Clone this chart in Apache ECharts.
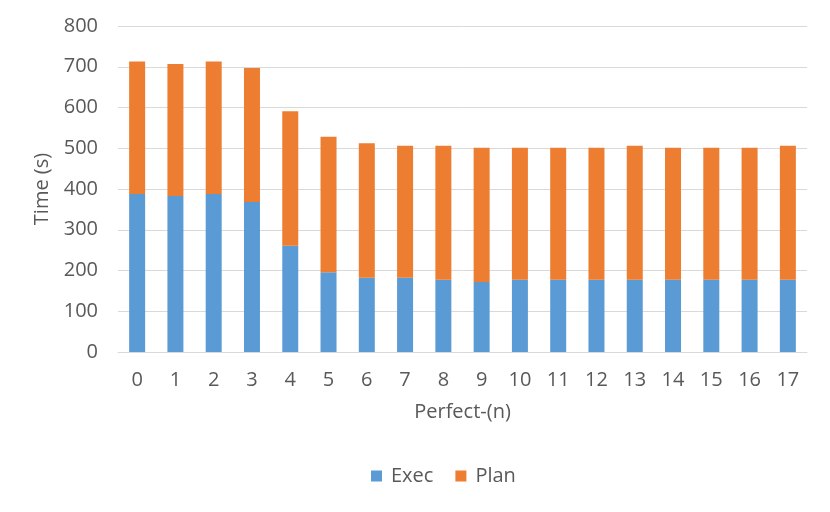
<!DOCTYPE html>
<html><head><meta charset="utf-8">
<script src="https://cdn.jsdelivr.net/npm/echarts@6/dist/echarts.min.js"></script>
<style>html,body{margin:0;padding:0;background:#fff}#c{width:830px;height:512px}</style>
</head><body><div id="c"></div>
<script>
const categories = ['0','1','2','3','4','5','6','7','8','9','10','11','12','13','14','15','16','17'];
const execValues = [388,383,388,368,261,196,182,182,177,172,177,177,177,177,177,177,177,177];
const planValues = [325,324,325,329,330,332,330,324,329,329,324,324,324,329,324,324,324,329];
const yTicks = [0,100,200,300,400,500,600,700,800];

const font = 'Open Sans, Liberation Sans, sans-serif';
const chart = echarts.init(document.getElementById('c'));
chart.setOption({
  animation: false,
  textStyle: {fontFamily: font},
  grid: {left: 118, right: 23, top: 26, bottom: 160, containLabel: false},
  legend: {
    data: ['Exec','Plan'], bottom: 21, left: 366,
    icon: 'rect', itemWidth: 11, itemHeight: 11, itemGap: 22,
    textStyle: {color: '#595959', fontSize: 20, fontFamily: font, padding: [0,0,0,4]}
  },
  xAxis: {
    type: 'category', data: categories,
    name: 'Perfect-(n)', nameLocation: 'middle', nameGap: 50,
    nameTextStyle: {color: '#595959', fontSize: 20, fontFamily: font},
    axisLine: {lineStyle: {color: '#D9D9D9', width: 1}},
    axisTick: {show: false},
    axisLabel: {color: '#595959', fontSize: 20, margin: 18, fontFamily: font}
  },
  yAxis: {
    type: 'value', min: yTicks[0], max: yTicks[yTicks.length-1], interval: 100,
    name: 'Time (s)', nameLocation: 'middle', nameGap: 64, nameRotate: 90,
    nameTextStyle: {color: '#595959', fontSize: 20, fontFamily: font},
    axisLine: {show: false}, axisTick: {show: false},
    axisLabel: {color: '#595959', fontSize: 20, margin: 20, fontFamily: font},
    splitLine: {lineStyle: {color: '#D9D9D9', width: 1}}
  },
  series: [
    {name: 'Exec', type: 'bar', stack: 't', data: execValues, barWidth: 16,
     itemStyle: {color: '#5B9BD5'}},
    {name: 'Plan', type: 'bar', stack: 't', data: planValues, barWidth: 16,
     itemStyle: {color: '#ED7D31'}}
  ]
});
</script></body></html>
